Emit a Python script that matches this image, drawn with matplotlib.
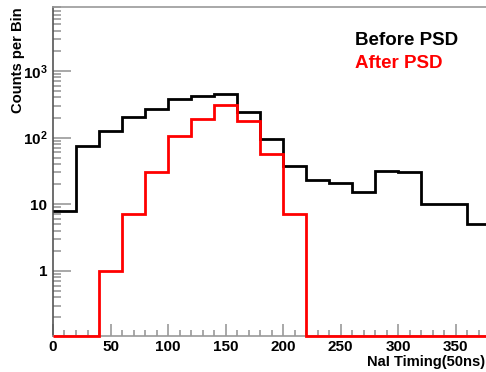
import numpy as np
import matplotlib
matplotlib.use("Agg")
import matplotlib.pyplot as plt
from matplotlib.ticker import FixedLocator, FixedFormatter, MultipleLocator, NullFormatter

plt.rcParams['font.family'] = ['Liberation Sans', 'DejaVu Sans']
plt.rcParams['font.weight'] = 'bold'
plt.rcParams['mathtext.fontset'] = 'custom'
plt.rcParams['mathtext.rm'] = 'Liberation Sans:bold'
plt.rcParams['mathtext.bf'] = 'Liberation Sans:bold'

bin_edges = np.arange(0, 400, 20)
before_psd = [8, 76, 124, 207, 273, 377, 428, 454, 243, 95, 38, 23, 21, 15, 31, 30, 10, 10, 5]
after_psd = [0, 0, 1, 7, 30, 107, 193, 313, 175, 56, 7, 0, 0, 0, 0, 0, 0, 0, 0]
ytick_vals = [1, 10, 100, 1000]
ytick_labels = ['1', '10', r'$\mathbf{10^{2}}$', r'$\mathbf{10^{3}}$']
xtick_vals = [0, 50, 100, 150, 200, 250, 300, 350]

ymin, ymax = 0.105, 10**3.96

fig = plt.figure(figsize=(4.86, 3.72), dpi=100)
ax = fig.add_axes([0.109, 0.097, 0.9, 0.884])

b = np.array(before_psd, dtype=float)
a = np.array(after_psd, dtype=float)
ax.stairs(np.where(b > 0, b, ymin), bin_edges, baseline=None, color='black', lw=2, clip_on=False, zorder=3)
ax.stairs(np.where(a > 0, a, ymin), bin_edges, baseline=None, color='#ff0000', lw=2, clip_on=False, zorder=4)

ax.set_yscale('log')
ax.set_ylim(ymin, ymax)
ax.set_xlim(0, 380)

ax.yaxis.set_major_locator(FixedLocator(ytick_vals))
ax.yaxis.set_major_formatter(FixedFormatter(ytick_labels))
minor = [m * 10.0**e for e in range(-1, 4) for m in range(2, 10)]
minor = [v for v in minor if ymin < v < ymax]
ax.yaxis.set_minor_locator(FixedLocator(minor))
ax.yaxis.set_minor_formatter(NullFormatter())

ax.xaxis.set_major_locator(FixedLocator(xtick_vals))
ax.xaxis.set_minor_locator(MultipleLocator(10))

ax.tick_params(axis='y', which='major', direction='in', length=13, width=1.2, color='#999999', labelsize=11, pad=4)
ax.tick_params(axis='y', which='minor', direction='in', length=6, width=1.2, color='#999999')
ax.tick_params(axis='x', which='major', direction='in', length=9, width=1.2, color='#999999', labelsize=11, pad=3)
ax.tick_params(axis='x', which='minor', direction='in', length=4.5, width=1.2, color='#999999')
for lab in ax.get_xticklabels() + ax.get_yticklabels():
    lab.set_fontweight('bold')

ax.spines['right'].set_visible(False)
ax.spines['top'].set_color('#999999')
ax.spines['top'].set_linewidth(1.2)
ax.spines['bottom'].set_color('#999999')
ax.spines['bottom'].set_linewidth(1.2)
ax.spines['left'].set_color('#555555')
ax.spines['left'].set_linewidth(1.2)

fig.text(0.037, 0.981, 'Counts per Bin', rotation=90, ha='center', va='top',
         fontsize=10.6, fontweight='bold')
fig.text(0.998, 0.027, 'NaI Timing(50ns)', ha='right', va='center',
         fontsize=10.6, fontweight='bold')

ax.text(0.730, 0.892, 'Before PSD', transform=fig.transFigure, ha='left', va='center',
        fontsize=13.5, fontweight='bold', color='black')
ax.text(0.730, 0.829, 'After PSD', transform=fig.transFigure, ha='left', va='center',
        fontsize=13.5, fontweight='bold', color='#ff0000')

fig.savefig('out.png', dpi=100)
